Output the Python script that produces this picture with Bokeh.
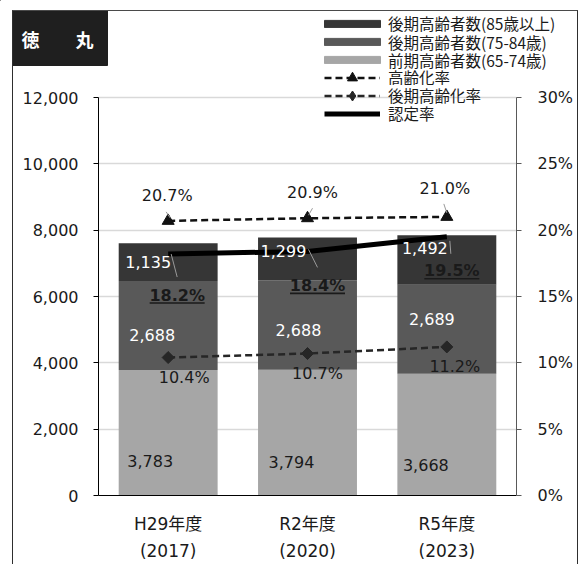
from bokeh.plotting import figure
from bokeh.layouts import column
from bokeh.models import (ColumnDataSource, FactorRange, Range1d, LinearAxis, FixedTicker,
                          NumeralTickFormatter, PrintfTickFormatter, Legend, LegendItem,
                          InlineStyleSheet)
from bokeh.core.properties import value
from bokeh.embed import file_html
from bokeh.resources import INLINE

# ---------------- data ----------------
categories = ["H29年度\n(2017)", "R2年度\n(2020)", "R5年度\n(2023)"]
early_65_74 = [3783, 3794, 3668]      # 前期高齢者数(65-74歳)
late_75_84 = [2688, 2688, 2689]       # 後期高齢者数(75-84歳)
late_85_plus = [1135, 1299, 1492]     # 後期高齢者数(85歳以上)
aging_rate = [20.7, 20.9, 21.0]       # 高齢化率 (%)
late_aging_rate = [10.4, 10.7, 11.2]  # 後期高齢化率 (%)
cert_rate = [18.2, 18.4, 19.5]        # 認定率 (%)
left_ticks = [0, 2000, 4000, 6000, 8000, 10000, 12000]
right_ticks = [0, 5, 10, 15, 20, 25, 30]
legend_labels = ["後期高齢者数(85歳以上)", "後期高齢者数(75-84歳)", "前期高齢者数(65-74歳)",
                 "高齢化率", "後期高齢化率", "認定率"]
title_text = "徳　　丸"

# ---------------- layout constants ----------------
W, H = 579, 564
HT = 85                      # height of the header strip (title + legend)
HM = H - HT                  # height of the chart
FL, BR, BB = 98, 63, 69
AXIS_TOP = 97 - HT           # y (in chart canvas) where 12,000 / 30% sit
FW, FH = W - FL - BR, HM - BB
PLOT_H = FH - AXIS_TOP       # px between 0 and 12,000
Y_END = 12000 * FH / PLOT_H
PCT_END = 30.0 * FH / PLOT_H
PXC = FW / len(categories)
PXP = PLOT_H / 30.0

C_LATE, C_MID, C_EARLY = "#363636", "#595959", "#a6a6a6"
NUM = "DejaVu Sans"
NUM_FONT = value(NUM)
JP_FONT = "Noto Sans CJK JP"
LEG_FONT_SIZE = "15.5px"
ITEM_H = 26

# label offsets (px, right / down) relative to anchors
early_dx, early_dy = [-18, -16, -21], [28, 29, 30]
mid_dx, mid_dy = [-16, -9, -15], [10, 5, -10]
late_dx, late_dy = [-20, -24, -22], [0, -8, -12]
aging_dx, aging_dy = [-1, 5, -2], [-25, -26, -28]
cert_dx, cert_dy = [9, 10, 5], [41, 34, 34]
lrate_dx, lrate_dy = [16, 10, 8], [20, 20, 20]
aging_leaders = [(-2, -9, 2, -3), (5, -10, 1, -3), (-3, -13, 0, -4)]
cert_leaders = [(3, 0, 9, 23), (1, -2, 10, 16), (3, 4, 4, 17)]

# legend item centres (page y)
leg_center_y = [23.3, 41.5, 59.5, 77, 95, 113]

AGING_STYLE = dict(line_color="#111111", line_width=2.5, line_dash="7 4")
LRATE_STYLE = dict(line_color="#262626", line_width=2.5, line_dash="7 4")
CERT_STYLE = dict(line_color="black", line_width=5)

def one_legend(label, renderers, left, center_y, frame_bottom, glyph_w, glyph_h, standoff):
    return Legend(items=[LegendItem(label=label, renderers=renderers)],
                  location=(left, frame_bottom - (center_y + ITEM_H / 2)),
                  glyph_width=glyph_w, glyph_height=glyph_h, label_height=ITEM_H,
                  label_standoff=standoff, spacing=0, padding=0, margin=0,
                  background_fill_alpha=0, border_line_alpha=0,
                  label_text_font=JP_FONT, label_text_font_size=LEG_FONT_SIZE,
                  label_text_color="#1a1a1a")

# ================= header strip (title box + legend) =================
t = figure(width=W, height=HT, x_range=Range1d(0, W), y_range=Range1d(HT, 0),
           output_backend="svg", toolbar_location=None, x_axis_type=None, y_axis_type=None,
           min_border=0, title=None)
t.frame_align = False
t.outline_line_color = None
t.background_fill_color = "white"
t.border_fill_color = "white"
t.quad(left=[12], right=[107], top=[10], bottom=[65], color="#1f1f1f")
t.text(x=[57], y=[38], text=[title_text], text_color="white", text_font=value(JP_FONT),
       text_font_style="bold", text_font_size="18px", text_align="center",
       text_baseline="middle")

# legend-key renderers (kept outside the visible range)
off = ColumnDataSource(dict(x=[-1000, -999], y=[-1000, -1000]))
k_late = t.vbar(x="x", top="y", width=1, source=off, color=C_LATE)
k_mid = t.vbar(x="x", top="y", width=1, source=off, color=C_MID)
k_early = t.vbar(x="x", top="y", width=1, source=off, color=C_EARLY)
k_aging_l = t.line("x", "y", source=off, **AGING_STYLE)
k_aging_m = t.scatter("x", "y", source=off, marker="triangle", color="#111111")

t.add_layout(one_legend(legend_labels[0], [k_late], 317, leg_center_y[0], HT, 70, 9, 1))
t.add_layout(one_legend(legend_labels[1], [k_mid], 317, leg_center_y[1], HT, 70, 9, 1))
t.add_layout(one_legend(legend_labels[2], [k_early], 317, leg_center_y[2], HT, 70, 9, 1))
t.add_layout(one_legend(legend_labels[3], [k_aging_l, k_aging_m], 324, leg_center_y[3], HT, 56, 25, 8))

# ================= chart =================
src = ColumnDataSource(dict(
    cat=categories, early=early_65_74, mid=late_75_84, late=late_85_plus,
    aging=aging_rate, lrate=late_aging_rate, cert=cert_rate,
))

p = figure(x_range=FactorRange(factors=categories), y_range=Range1d(0, Y_END),
           width=W, height=HM, output_backend="svg", toolbar_location=None, title=None,
           min_border_left=FL, min_border_right=BR, min_border_top=0, min_border_bottom=BB)
p.frame_align = False
p.extra_y_ranges = {"pct": Range1d(0, PCT_END)}
p.outline_line_color = None
p.background_fill_color = "white"
p.border_fill_color = "white"

p.yaxis.ticker = FixedTicker(ticks=left_ticks)
p.yaxis.bounds = (0, 12000)
p.yaxis.formatter = NumeralTickFormatter(format="0,0")
p.yaxis.major_label_text_font = NUM
p.yaxis.major_label_text_font_size = "16px"
p.yaxis.major_label_text_color = "#1a1a1a"
p.yaxis.axis_line_color = "black"
p.yaxis.major_tick_line_color = "black"
p.yaxis.major_tick_out = 5
p.yaxis.major_tick_in = 0
p.yaxis.minor_tick_line_color = None
p.yaxis.major_label_standoff = 15

ra = LinearAxis(y_range_name="pct", ticker=FixedTicker(ticks=right_ticks),
                formatter=PrintfTickFormatter(format="%d%%"), bounds=(0, 30))
ra.major_label_text_font = NUM
ra.major_label_text_font_size = "16px"
ra.major_label_text_color = "#1a1a1a"
ra.axis_line_color = "#595959"
ra.major_tick_line_color = "#595959"
ra.major_tick_out = 5
ra.major_tick_in = 0
ra.minor_tick_line_color = None
ra.major_label_standoff = 16
p.add_layout(ra, "right")

p.xaxis.major_tick_line_color = None
p.xaxis.axis_line_color = "black"
p.xaxis.major_label_text_font = "DejaVu Sans, Noto Sans CJK JP"
p.xaxis.major_label_text_font_size = "17px"
p.xaxis.major_label_text_color = "#1a1a1a"
p.xaxis.major_label_text_line_height = 1.35
p.xaxis.major_label_standoff = 12

p.xgrid.grid_line_color = None
p.ygrid.ticker = FixedTicker(ticks=left_ticks)
p.ygrid.grid_line_color = "#d9d9d9"
p.ygrid.grid_line_width = 1.5

bars = p.vbar_stack(["early", "mid", "late"], x="cat", width=0.71, source=src,
                    color=[C_EARLY, C_MID, C_LATE], line_color=None)

r_aging_l = p.line("cat", "aging", source=src, y_range_name="pct", **AGING_STYLE)
r_aging_m = p.scatter("cat", "aging", source=src, y_range_name="pct", marker="triangle",
                      size=12, color="#111111")
r_lrate_l = p.line("cat", "lrate", source=src, y_range_name="pct", **LRATE_STYLE)
r_lrate_m = p.scatter("cat", "lrate", source=src, y_range_name="pct", marker="square",
                      angle=0.785398, size=8.5, color="#262626")
r_cert = p.line("cat", "cert", source=src, y_range_name="pct", **CERT_STYLE)
# legend-key diamond (kept outside the visible range)
k_lrate_m = p.scatter("x", "y", source=ColumnDataSource(dict(x=[-10], y=[-10])),
                      marker="diamond", color="#262626")

# leader lines
n = len(categories)
lx0, ly0, lx1, ly1 = [], [], [], []
for i in range(n):
    for (vals, leaders) in ((aging_rate, aging_leaders), (cert_rate, cert_leaders)):
        a, b, c, d = leaders[i]
        lx0.append(i + 0.5 + a / PXC); ly0.append(vals[i] - b / PXP)
        lx1.append(i + 0.5 + c / PXC); ly1.append(vals[i] - d / PXP)
p.segment(lx0, ly0, lx1, ly1, y_range_name="pct", line_color="#9a9a9a", line_width=1)

# underline for certification-rate labels
ux0, ux1, uy = [], [], []
for i in range(n):
    xc = i + 0.5 + cert_dx[i] / PXC
    ux0.append(xc - 27.5 / PXC); ux1.append(xc + 27.5 / PXC)
    uy.append(cert_rate[i] - (cert_dy[i] + 8) / PXP)
p.segment(ux0, uy, ux1, uy, y_range_name="pct", line_color="#1a1a1a", line_width=1.6)

def stack_mid(base, part):
    return [b + v / 2 for b, v in zip(base, part)]

zero = [0] * n
early_c = stack_mid(zero, early_65_74)
mid_c = stack_mid(early_65_74, late_75_84)
late_c = stack_mid([a + b for a, b in zip(early_65_74, late_75_84)], late_85_plus)

def add_labels(yvals, texts, dx, dy, color, y_range_name=None, style="normal"):
    s = ColumnDataSource(dict(x=categories, y=yvals, t=texts, dx=dx, dy=dy))
    kw = dict(y_range_name=y_range_name) if y_range_name else {}
    p.text("x", "y", text="t", x_offset="dx", y_offset="dy", source=s,
           text_align="center", text_baseline="middle", text_font=NUM_FONT,
           text_font_size="16px", text_color=color, text_font_style=style, **kw)

add_labels(early_c, [f"{v:,}" for v in early_65_74], early_dx, early_dy, "#1a1a1a")
add_labels(mid_c, [f"{v:,}" for v in late_75_84], mid_dx, mid_dy, "white")
add_labels(late_c, [f"{v:,}" for v in late_85_plus], late_dx, late_dy, "white")
add_labels(aging_rate, [f"{v:.1f}%" for v in aging_rate], aging_dx, aging_dy, "#1a1a1a", "pct")
add_labels(cert_rate, [f"{v:.1f}%" for v in cert_rate], cert_dx, cert_dy, "#1a1a1a", "pct", "bold")
add_labels(late_aging_rate, [f"{v:.1f}%" for v in late_aging_rate], lrate_dx, lrate_dy, "#1a1a1a", "pct")

# legend items that sit over the chart area
p.add_layout(one_legend(legend_labels[4], [r_lrate_l, k_lrate_m], 324 - FL,
                        leg_center_y[4] - HT, FH, 56, 25, 8))
p.add_layout(one_legend(legend_labels[5], [r_cert], 324 - FL,
                        leg_center_y[5] - HT, FH, 56, 25, 8))

layout = column(t, p, spacing=0)
layout.stylesheets = [InlineStyleSheet(css=(
    ":host { position: relative; }"
    ":host::after { content: ''; position: absolute; left: 12px; top: 10px; right: 1px; "
    "bottom: 0px; border-left: 1.5px solid #2e2e2e; border-top: 1.5px solid #4a4a4a; "
    "border-right: 1.5px solid #2e2e2e; pointer-events: none; }"))]

open("out.html", "w").write(file_html(layout, INLINE))
